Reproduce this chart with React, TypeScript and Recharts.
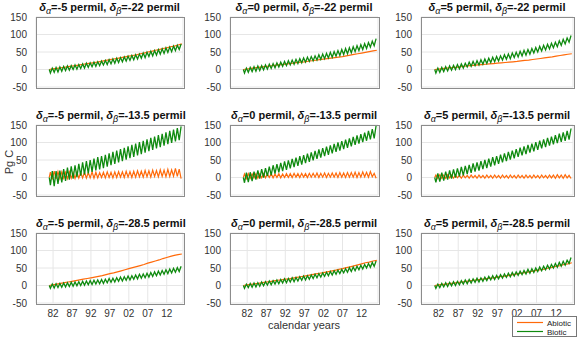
import { LineChart, Line, XAxis, YAxis, CartesianGrid } from 'recharts'

const years = [1981, 1982, 1983, 1984, 1985, 1986, 1987, 1988, 1989, 1990, 1991, 1992, 1993, 1994, 1995, 1996, 1997, 1998, 1999, 2000, 2001, 2002, 2003, 2004, 2005, 2006, 2007, 2008, 2009, 2010, 2011, 2012, 2013, 2014, 2015]
const smoothYears = [...years, 2016]
const xTicks = [1982, 1987, 1992, 1997, 2002, 2007, 2012]
const yTicks = [-50, 0, 50, 100, 150]
const alphas = ['-5', '0', '5']
const betas = ['-22', '-13.5', '-28.5']

// row 1: delta beta = -22
const abiotic11 = [0, 2, 3, 5, 6, 8, 10, 11, 13, 15, 17, 18, 20, 22, 24, 26, 28, 30, 32, 34, 36, 38, 40, 42, 45, 47, 50, 52, 55, 57, 60, 62, 65, 67, 70, 73]
const bioticHi11 = [4, 6, 7, 9, 10, 11, 13, 14, 16, 18, 19, 21, 22, 24, 26, 28, 30, 32, 34, 36, 38, 40, 42, 44, 47, 49, 52, 54, 57, 59, 62, 64, 67, 69, 73]
const bioticLo11 = [-10, -8, -7, -5, -3, -2, 0, 1, 3, 4, 6, 8, 9, 11, 13, 14, 16, 18, 20, 22, 24, 26, 28, 30, 32, 34, 37, 39, 41, 44, 46, 49, 51, 54, 57]

const abiotic12 = [0, 1.5, 3, 4.5, 6, 7.5, 9, 10, 11.5, 13, 14, 15.5, 17, 18, 19.5, 21, 22, 23.5, 25, 26.5, 28, 29.5, 31, 32.5, 34, 35.5, 37, 39, 41, 43, 45, 47, 49, 51, 53, 55]
const bioticHi12 = [4, 6, 8, 10, 11, 13, 15, 17, 19, 21, 23, 25, 27, 29, 31, 33, 35, 37, 39, 42, 44, 46, 49, 51, 54, 57, 60, 62, 65, 68, 71, 74, 77, 81, 88]
const bioticLo12 = [-10, -8, -6, -5, -3, -1, 1, 3, 5, 7, 9, 11, 13, 15, 17, 19, 21, 23, 25, 27, 29, 31, 33, 35, 38, 40, 43, 45, 48, 51, 54, 57, 60, 64, 68]

const abiotic13 = [0, 1, 2.5, 4, 5, 6, 7, 8.5, 10, 11, 12, 13, 14, 15, 16, 17, 18, 19, 20, 21, 22, 23, 24.5, 26, 27, 28.5, 30, 31.5, 33, 34.5, 36, 38, 40, 42, 43.5, 45]
const bioticHi13 = [4, 6, 8, 10, 12, 14, 16, 18, 21, 23, 25, 28, 30, 32, 35, 37, 39, 42, 44, 47, 49, 52, 55, 57, 60, 63, 66, 69, 72, 75, 78, 82, 86, 90, 97]
const bioticLo13 = [-10, -8, -6, -4, -2, 0, 2, 4, 7, 9, 11, 13, 15, 17, 20, 22, 24, 27, 29, 31, 34, 36, 39, 41, 44, 47, 50, 53, 56, 59, 62, 65, 69, 73, 78]

// row 2: delta beta = -13.5 (abiotic oscillates too)
const abioticHi21 = [15, 18, 17, 16, 15, 16, 14, 15, 14, 15, 14, 16, 15, 14, 15, 16, 15, 16, 17, 16, 18, 17, 18, 19, 18, 20, 19, 21, 20, 22, 21, 23, 22, 26, 24]
const abioticLo21 = [-5, -4, -3, -2, -3, -2, -3, -2, -1, -2, -1, -2, -1, 0, -1, 0, -1, 0, 1, 0, 1, 0, 1, 2, 1, 2, 1, 3, 2, 3, 2, 3, 4, 3, -3]
const bioticHi21 = [18, 18, 20, 24, 28, 32, 35, 39, 43, 47, 50, 54, 58, 61, 65, 69, 73, 77, 81, 85, 89, 93, 97, 101, 105, 109, 113, 117, 121, 125, 129, 133, 137, 141, 146]
const bioticLo21 = [-22, -25, -18, -14, -10, -6, -3, 1, 5, 9, 12, 16, 20, 23, 27, 31, 35, 39, 43, 47, 51, 55, 59, 63, 67, 71, 75, 79, 83, 87, 91, 95, 99, 103, 107]

const abioticHi22 = [10, 11, 10, 11, 10, 11, 10, 11, 10, 11, 10, 11, 11, 12, 11, 12, 11, 12, 12, 13, 12, 13, 12, 13, 13, 14, 13, 14, 14, 15, 14, 16, 15, 17, 12]
const abioticLo22 = [-3, -2, -1, -2, -1, -1, 0, -1, 0, -1, 0, 0, 0, 1, 0, 1, 0, 1, 1, 0, 1, 0, 1, 1, 0, 1, 0, 1, 1, 0, 1, 2, 1, 2, -2]
const bioticHi22 = [14, 15, 17, 20, 24, 27, 31, 35, 38, 42, 46, 49, 53, 57, 61, 64, 68, 72, 76, 80, 84, 88, 92, 96, 100, 104, 108, 112, 116, 120, 124, 128, 133, 138, 148]
const bioticLo22 = [-15, -13, -10, -6, -3, 0, 4, 7, 11, 15, 18, 22, 26, 30, 33, 37, 41, 45, 49, 53, 57, 61, 65, 69, 73, 77, 81, 85, 89, 93, 97, 101, 105, 109, 112]

const abioticHi23 = [7, 8, 7, 8, 7, 7, 6, 7, 6, 7, 6, 7, 6, 7, 6, 7, 6, 7, 6, 7, 6, 7, 6, 7, 6, 7, 6, 7, 6, 7, 7, 8, 7, 8, 6]
const abioticLo23 = [-3, -2, -2, -1, -2, -1, -2, -1, -2, -1, -2, -1, -2, -1, -2, -1, -2, -1, -2, -1, -2, -1, -2, -1, -2, -1, -2, -1, -2, -1, -2, -1, -2, -1, -3]
const bioticHi23 = [12, 14, 17, 20, 23, 26, 30, 33, 36, 40, 43, 47, 50, 54, 58, 61, 65, 69, 73, 77, 81, 85, 89, 93, 97, 101, 105, 109, 113, 117, 121, 125, 129, 133, 140]
const bioticLo23 = [-14, -12, -9, -6, -3, 0, 3, 6, 10, 13, 17, 20, 24, 27, 31, 35, 39, 43, 47, 51, 55, 59, 63, 67, 71, 75, 79, 83, 87, 91, 95, 98, 102, 105, 108]

// row 3: delta beta = -28.5
const abiotic31 = [0, 2, 4, 6, 8, 10, 12, 14, 16, 18, 20, 22, 24, 26, 28, 31, 34, 36, 39, 42, 45, 48, 51, 54, 57, 60, 64, 67, 70, 73, 77, 80, 83, 86, 88, 90]
const bioticHi31 = [4, 5, 6, 7, 8, 9, 10, 11, 12, 13, 14, 15, 16, 17, 18, 20, 21, 22, 24, 25, 27, 28, 30, 32, 33, 35, 37, 39, 41, 43, 45, 47, 49, 51, 55]
const bioticLo31 = [-8, -7, -6, -5, -4, -3, -2, -1, 0, 1, 2, 3, 4, 5, 6, 8, 9, 10, 12, 13, 15, 16, 18, 19, 21, 22, 24, 26, 28, 30, 32, 34, 36, 38, 40]

const abiotic32 = [0, 2, 3, 5, 6, 8, 10, 11, 13, 15, 16, 18, 19, 21, 23, 25, 27, 29, 31, 33, 35, 37, 39, 41, 43, 46, 48, 51, 53, 56, 59, 62, 65, 67, 70, 72]
const bioticHi32 = [4, 6, 7, 8, 10, 11, 13, 14, 16, 17, 19, 20, 22, 23, 25, 27, 28, 30, 32, 34, 36, 38, 40, 42, 44, 46, 48, 51, 53, 55, 58, 60, 63, 66, 70]
const bioticLo32 = [-8, -6, -5, -4, -2, -1, 1, 2, 4, 5, 7, 8, 10, 11, 13, 15, 16, 18, 20, 22, 24, 26, 28, 30, 32, 34, 36, 38, 40, 42, 45, 47, 50, 52, 55]

const abiotic33 = [0, 2, 3, 4, 6, 7, 9, 10, 12, 13, 15, 16, 18, 19, 21, 22, 24, 26, 27, 29, 31, 33, 35, 37, 39, 41, 43, 45, 47, 50, 52, 55, 57, 60, 62, 65]
const bioticHi33 = [4, 6, 8, 9, 11, 12, 14, 16, 17, 19, 21, 22, 24, 26, 28, 29, 31, 33, 35, 37, 39, 41, 43, 46, 48, 50, 53, 55, 58, 60, 63, 66, 69, 72, 80]
const bioticLo33 = [-8, -6, -4, -3, -1, 0, 2, 4, 5, 7, 9, 10, 12, 14, 16, 17, 19, 21, 23, 25, 27, 29, 31, 33, 35, 37, 40, 42, 45, 47, 50, 52, 55, 58, 63]

type Pt = { x: number; v: number }

// annual cycle: two points per year, starting from zero
function zigzag(first: number[], second: number[]): Pt[] {
  const pts: Pt[] = [{ x: 1981, v: 0 }]
  years.forEach((y, i) => {
    pts.push({ x: y + 0.3, v: first[i] })
    pts.push({ x: y + 0.8, v: second[i] })
  })
  return pts
}

function smooth(vals: number[]): Pt[] {
  return smoothYears.map((y, i) => ({ x: y, v: vals[i] }))
}

const panels: { abiotic: Pt[]; biotic: Pt[] }[][] = [
  [
    { abiotic: smooth(abiotic11), biotic: zigzag(bioticLo11, bioticHi11) },
    { abiotic: smooth(abiotic12), biotic: zigzag(bioticLo12, bioticHi12) },
    { abiotic: smooth(abiotic13), biotic: zigzag(bioticLo13, bioticHi13) },
  ],
  [
    { abiotic: zigzag(abioticHi21, abioticLo21), biotic: zigzag(bioticLo21, bioticHi21) },
    { abiotic: zigzag(abioticHi22, abioticLo22), biotic: zigzag(bioticLo22, bioticHi22) },
    { abiotic: zigzag(abioticHi23, abioticLo23), biotic: zigzag(bioticLo23, bioticHi23) },
  ],
  [
    { abiotic: smooth(abiotic31), biotic: zigzag(bioticLo31, bioticHi31) },
    { abiotic: smooth(abiotic32), biotic: zigzag(bioticLo32, bioticHi32) },
    { abiotic: smooth(abiotic33), biotic: zigzag(bioticLo33, bioticHi33) },
  ],
]

const ORANGE = '#ff6a0a'
const GREEN = '#0f8a0f'
const FONT = '"Liberation Sans", Arial, sans-serif'
const colLeft = [36, 230, 421]
const colWidth = [147, 148, 152]
const rowTop = [17, 125, 233]
const plotH = 70
const padTop = 6
const yAxisW = 34
const xAxisH = 16
const X_DOMAIN: [number, number] = [1977.5, 2016.3]

function Title({ alpha, beta }: { alpha: string; beta: string }) {
  const sub = { fontStyle: 'italic', fontWeight: 'normal' as const, fontSize: 9, verticalAlign: -3 }
  return (
    <span>
      <i>δ</i><span style={sub}>α</span>={alpha} permil, <i>δ</i><span style={sub}>β</span>={beta} permil
    </span>
  )
}

function Panel({ r, c }: { r: number; c: number }) {
  const p = panels[r][c]
  const showX = r === 2
  return (
    <div style={{ position: 'absolute', left: colLeft[c] - yAxisW, top: rowTop[r] - padTop }}>
      <LineChart
        width={colWidth[c] + yAxisW + 1}
        height={plotH + xAxisH + padTop}
        margin={{ top: padTop, right: 1, left: 0, bottom: 0 }}
      >
        <CartesianGrid stroke="#e6e6e6" />
        <XAxis
          type="number"
          dataKey="x"
          domain={X_DOMAIN}
          allowDataOverflow
          ticks={xTicks}
          interval={0}
          tickFormatter={(y: number) => String(y % 100).padStart(2, '0')}
          tick={showX ? { fontSize: 10, fill: '#333', fontFamily: FONT } : false}
          tickLine={false}
          axisLine={false}
          height={xAxisH}
          tickMargin={1}
        />
        <YAxis
          type="number"
          domain={[-50, 150]}
          ticks={yTicks}
          interval={0}
          width={yAxisW}
          tick={{ fontSize: 10, fill: '#333', fontFamily: FONT }}
          tickLine={false}
          axisLine={false}
          tickMargin={3}
          allowDataOverflow
        />
        <Line data={p.abiotic} dataKey="v" stroke={ORANGE} strokeWidth={1.2} dot={false} isAnimationActive={false} />
        <Line data={p.biotic} dataKey="v" stroke={GREEN} strokeWidth={1.3} dot={false} isAnimationActive={false} />
      </LineChart>
      <div
        style={{
          position: 'absolute',
          left: yAxisW - 0.5,
          top: padTop - 0.5,
          width: colWidth[c],
          height: plotH,
          border: '1px solid #8c8c8c',
          pointerEvents: 'none',
        }}
      />
      <div
        style={{
          position: 'absolute',
          left: yAxisW,
          width: colWidth[c],
          top: padTop - 16,
          textAlign: 'center',
          fontFamily: FONT,
          fontWeight: 'bold',
          fontSize: 11,
          color: '#111',
          whiteSpace: 'nowrap',
          lineHeight: '13px',
        }}
      >
        <Title alpha={alphas[c]} beta={betas[r]} />
      </div>
    </div>
  )
}

export default function App() {
  return (
    <div style={{ position: 'absolute', left: 0, top: 0, width: 581, height: 343, background: '#fff', fontFamily: FONT }}>
      {[0, 1, 2].map((r) => [0, 1, 2].map((c) => <Panel key={`${r}-${c}`} r={r} c={c} />))}
      <div style={{ position: 'absolute', left: -11, top: 156, width: 40, textAlign: 'center', transform: 'rotate(-90deg)', fontSize: 11, lineHeight: '12px', color: '#333' }}>
        Pg C
      </div>
      <div style={{ position: 'absolute', left: 230, width: 148, top: 319, textAlign: 'center', fontSize: 11, lineHeight: '12px', color: '#333' }}>
        calendar years
      </div>
      <svg style={{ position: 'absolute', left: 512, top: 316 }} width={66} height={22}>
        <rect x={0.5} y={0.5} width={64} height={20} fill="#fff" stroke="#777" />
        <line x1={5} x2={31} y1={6.5} y2={6.5} stroke={ORANGE} strokeWidth={1.2} />
        <line x1={5} x2={31} y1={15.5} y2={15.5} stroke={GREEN} strokeWidth={1.2} />
        <text x={35} y={9.5} fontSize={8} fill="#222" fontFamily={FONT}>Abiotic</text>
        <text x={35} y={18.5} fontSize={8} fill="#222" fontFamily={FONT}>Biotic</text>
      </svg>
    </div>
  )
}
